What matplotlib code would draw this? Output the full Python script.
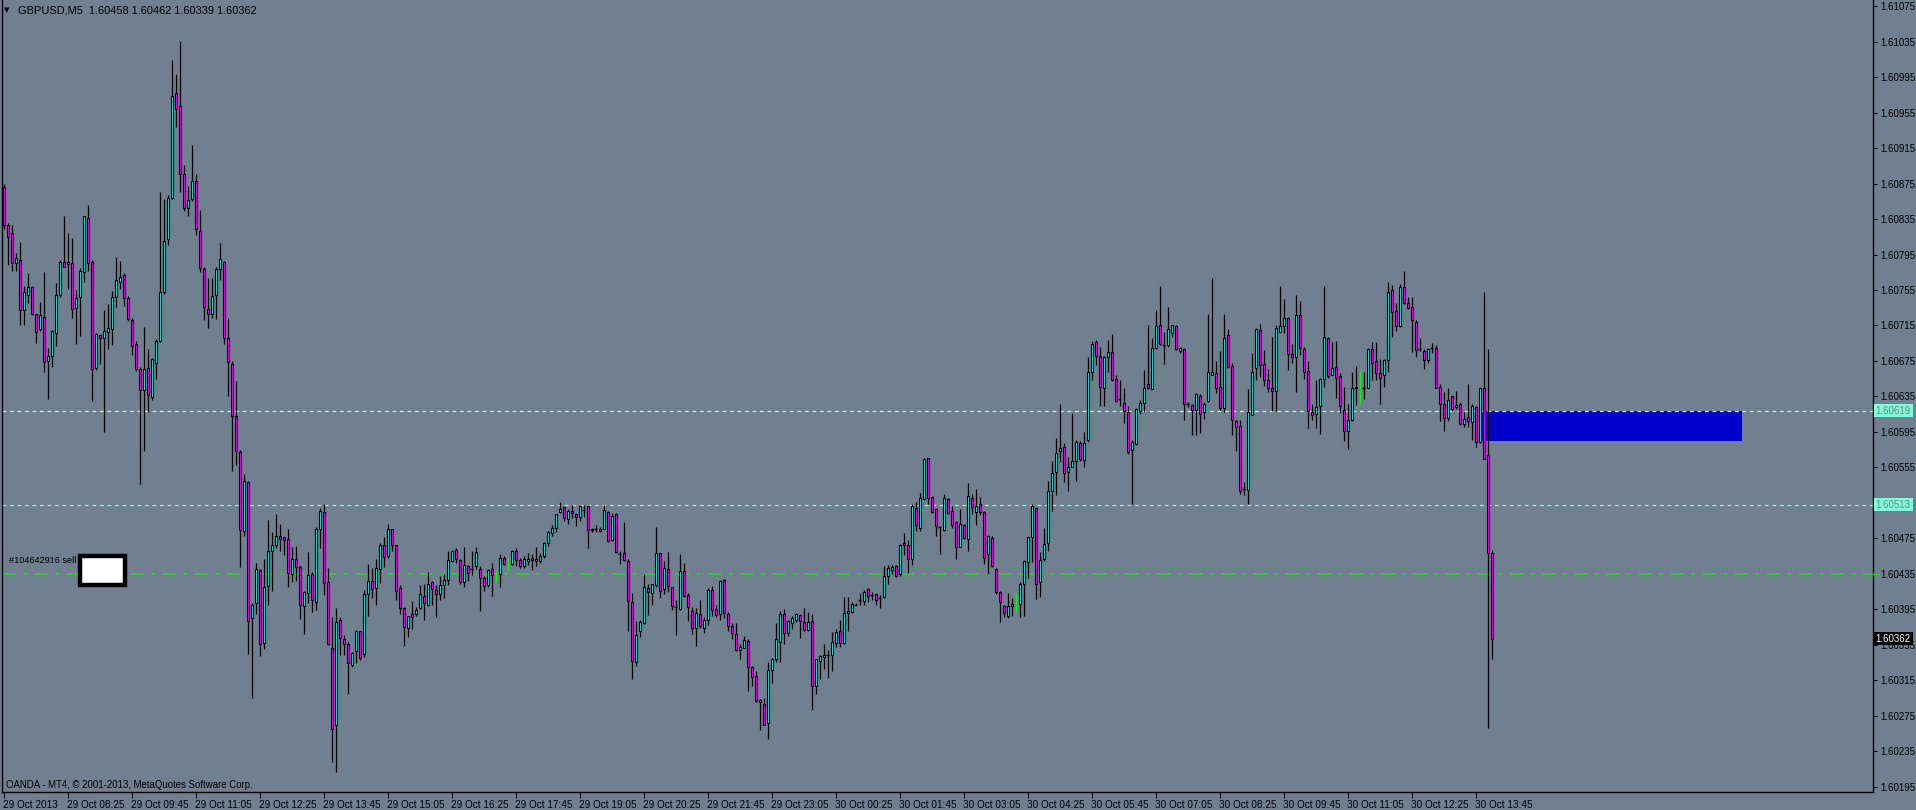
import matplotlib
matplotlib.use("Agg")
import matplotlib.pyplot as plt
import matplotlib.transforms as mtransforms
from matplotlib.patches import Rectangle

# ---------------- data (prices in points above 1.60000, i.e. 871 -> 1.60871) -------------
BASE = 1.60000
opens_pts = [871,828,819,785,789,732,749,758,728,711,725,675,681,707,749,787,784,786,735,747,
 775,836,787,667,704,701,708,711,747,764,772,746,721,694,666,642,667,634,673,697,
 753,813,859,977,962,886,847,858,878,822,779,734,728,749,779,787,701,672,613,572,
 483,539,385,402,439,357,421,461,467,478,476,474,435,452,443,399,413,435,403,485,
 505,426,351,265,383,361,356,332,348,371,345,412,427,419,440,467,455,485,467,419,
 396,374,390,390,396,410,400,426,417,412,422,428,450,462,451,426,444,440,444,440,
 430,422,440,433,435,453,446,446,461,451,444,449,453,452,450,455,470,481,487,505,
 510,497,506,502,499,507,512,484,485,486,485,505,473,502,457,458,449,403,336,370,
 379,419,413,422,458,418,441,420,398,395,438,411,393,374,390,374,383,417,395,390,
 428,390,376,367,349,351,359,330,320,290,288,267,327,339,358,390,368,380,383,389,
 381,372,382,308,337,341,343,344,357,371,357,391,392,400,405,404,418,411,412,408,
 409,432,439,444,435,470,468,452,509,487,519,566,522,508,488,484,519,506,493,465,
 490,474,521,505,514,505,457,475,441,414,399,387,399,402,401,424,448,477,509,426,
 452,470,528,550,574,578,550,556,562,583,563,586,662,696,681,644,680,685,655,632,
 628,617,575,581,619,628,649,643,690,715,693,693,707,714,686,688,626,625,620,636,
 618,630,659,661,646,622,704,669,607,602,531,529,614,667,710,672,653,645,641,708,
 714,724,683,679,727,688,664,618,615,624,655,701,659,668,658,620,596,609,646,644,
 644,644,688,675,661,659,676,755,731,714,758,740,736,719,688,686,676,690,690,646,
 627,611,635,623,627,604,612,606,623,584,644,569,458]
highs_pts = [875,830,828,797,809,759,774,759,728,741,775,690,710,763,789,838,819,814,755,780,
 839,851,789,707,704,732,739,754,792,788,774,748,723,697,668,713,688,678,700,866,
 858,862,1014,999,1036,896,872,919,886,845,781,768,768,781,808,788,723,675,652,575,
 548,540,402,447,441,452,496,482,502,491,476,486,465,466,445,416,460,437,488,509,
 514,442,386,396,386,366,358,347,372,371,417,446,442,452,470,477,491,486,467,422,
 398,388,404,398,422,423,437,427,422,433,435,461,462,464,452,465,445,461,465,444,
 433,440,447,439,457,455,453,462,464,453,455,458,457,465,458,471,483,490,502,516,
 510,508,513,503,513,513,513,487,490,488,513,506,504,504,461,493,452,413,382,383,
 435,423,424,488,459,449,460,420,405,457,447,413,398,396,406,386,419,421,400,428,
 429,392,380,379,356,365,361,331,325,294,295,336,340,379,393,395,383,388,391,390,
 397,392,390,339,344,356,349,369,373,383,409,409,403,402,413,417,419,414,413,411,
 444,445,445,445,469,481,473,514,516,526,566,566,523,509,489,525,521,511,494,508,
 491,537,525,531,522,506,479,478,442,416,400,413,408,413,426,451,477,514,510,460,
 487,540,562,588,626,582,567,616,586,585,595,680,698,699,691,681,699,705,659,653,
 644,624,586,622,631,665,716,701,732,759,708,736,716,715,691,690,629,627,639,638,
 629,728,769,675,686,728,711,673,609,609,539,643,684,712,717,687,666,702,716,760,
 745,725,694,749,743,691,675,626,654,656,759,702,696,697,661,646,627,663,669,664,
 663,690,696,696,677,677,764,761,740,762,776,747,747,721,701,689,690,695,693,649,
 640,644,636,641,629,617,649,626,624,645,753,688,462]
lows_pts = [824,783,777,777,715,716,740,727,695,709,663,632,668,692,747,781,756,724,694,703,
 764,776,630,665,672,595,689,693,736,756,737,720,682,664,536,573,617,631,655,696,
 751,806,858,939,866,844,839,855,817,775,721,712,724,722,766,694,636,551,558,443,
 478,345,295,390,342,350,400,416,464,461,456,420,426,427,384,367,402,392,394,464,
 411,355,223,212,343,344,299,330,334,338,341,388,408,400,425,443,453,461,405,390,
 354,364,373,387,395,383,399,400,386,405,408,422,448,447,424,420,427,434,440,393,
 416,420,410,426,420,445,439,445,444,442,442,445,439,444,447,453,466,478,482,504,
 494,491,498,489,494,499,464,482,482,482,485,471,472,458,446,449,371,316,331,364,
 378,389,400,420,408,412,415,394,366,394,409,382,367,354,374,368,377,388,386,383,
 385,371,362,348,339,351,303,309,290,259,264,249,312,336,336,356,365,373,381,363,
 371,371,282,299,316,328,317,325,352,352,356,371,391,400,400,400,403,406,400,396,
 408,423,435,431,433,456,436,445,483,483,518,514,504,478,457,483,503,487,452,465,
 474,461,503,490,501,446,435,443,412,381,386,385,388,392,386,388,430,448,407,409,
 450,461,506,524,561,539,528,555,540,562,555,584,653,670,624,624,662,652,629,624,
 605,570,514,580,615,617,643,643,689,693,672,691,702,687,684,609,623,592,592,594,
 610,629,659,639,620,617,667,592,574,525,524,514,614,653,657,647,640,619,619,708,
 707,665,673,640,682,655,599,608,599,593,646,656,659,633,616,585,576,607,625,627,
 632,644,654,654,627,646,663,702,709,713,739,734,685,679,686,666,673,684,644,607,
 596,607,619,621,603,600,601,586,578,583,565,261,339]
closes_pts = [828,815,785,791,733,753,758,728,708,727,674,681,709,749,787,781,787,734,746,777,
 838,786,666,705,701,709,712,747,766,770,746,722,692,666,642,666,637,677,698,753,
 810,859,974,959,886,847,856,878,824,780,736,728,748,779,790,701,674,613,574,484,
 540,382,400,440,356,420,461,468,478,474,473,436,452,443,400,415,434,405,486,506,
 425,356,260,381,363,356,334,346,371,340,412,427,418,442,467,454,485,467,416,396,
 375,387,386,394,412,402,424,418,412,422,428,451,461,452,426,445,436,440,460,430,
 421,439,434,433,453,446,446,461,451,444,452,452,451,449,455,470,482,487,502,508,
 498,506,504,499,512,507,484,486,485,483,507,472,500,460,457,451,404,337,366,381,
 420,415,423,459,416,442,421,399,398,438,410,398,374,391,376,383,417,394,389,427,
 391,376,368,349,352,360,330,319,292,293,265,327,339,362,390,368,382,385,390,382,
 372,381,308,339,342,344,343,358,369,357,391,393,401,400,405,415,410,411,406,408,
 433,442,443,432,468,467,452,511,490,521,565,521,505,489,488,521,504,490,465,491,
 475,523,510,512,505,453,478,444,415,403,391,399,401,402,423,450,476,511,424,451,
 469,528,549,571,577,549,555,562,584,564,583,663,694,681,646,679,685,653,630,632,
 619,572,584,621,628,644,644,690,714,694,693,711,715,688,690,627,626,620,638,615,
 627,662,662,645,622,701,668,609,600,528,531,618,662,711,670,653,644,641,712,714,
 724,683,679,727,690,663,619,614,623,655,702,658,667,656,624,596,609,644,644,644,
 644,688,673,661,656,676,753,730,714,758,740,735,721,687,688,676,688,690,644,626,
 611,631,621,625,604,610,607,624,584,644,565,459,362]
lime_doji_bars = [123, 126, 253, 339]

x_tick_bars = list(range(0, 369, 16))
x_tick_labels = ["29 Oct 2013", "29 Oct 08:25", "29 Oct 09:45", "29 Oct 11:05", "29 Oct 12:25",
                 "29 Oct 13:45", "29 Oct 15:05", "29 Oct 16:25", "29 Oct 17:45", "29 Oct 19:05",
                 "29 Oct 20:25", "29 Oct 21:45", "29 Oct 23:05", "30 Oct 00:25", "30 Oct 01:45",
                 "30 Oct 03:05", "30 Oct 04:25", "30 Oct 05:45", "30 Oct 07:05", "30 Oct 08:25",
                 "30 Oct 09:45", "30 Oct 11:05", "30 Oct 12:25", "30 Oct 13:45"]
y_tick_values = [1.61075 - 0.0004 * k for k in range(23)]
hidden_y_labels = ["1.60515"]   # covered by the 1.60513 price box in the reference

line_upper = 1.60619
line_lower = 1.60513
order_price = 1.60435
last_price = 1.60362
zone_top, zone_bottom = 1.60619, 1.60585
zone_start_bar, zone_end_bar = 369.2, 434.6
header = "GBPUSD,M5  1.60458 1.60462 1.60339 1.60362"
order_label = "#104642916 sell"
copyright_text = "OANDA - MT4, \u00a9 2001-2013, MetaQuotes Software Corp."

# ---------------- styling -------------
BG = "#708090"
BULL = "#40E0D0"
BEAR = "#FF00FF"
FONT = "Liberation Sans"

o = [BASE + v / 1e5 for v in opens_pts]
h = [BASE + v / 1e5 for v in highs_pts]
l = [BASE + v / 1e5 for v in lows_pts]
c = [BASE + v / 1e5 for v in closes_pts]
n = len(o)
xs = list(range(n))

W, H = 1916, 810
fig = plt.figure(figsize=(W / 100, H / 100), dpi=100, facecolor=BG)
ax = fig.add_axes([2 / W, 18 / H, 1871 / W, 792 / H])
ax.set_facecolor(BG)
ax.set_xlim(-0.425, -0.425 + 1871 / 4)
ax.set_ylim(1.60189, 1.61082)

# wicks
normal = [i for i in xs if i not in lime_doji_bars]
ax.vlines([xs[i] for i in normal], [l[i] for i in normal], [h[i] for i in normal],
          colors="black", linewidth=0.9, zorder=3)
ax.vlines(lime_doji_bars, [l[i] for i in lime_doji_bars], [h[i] for i in lime_doji_bars],
          colors="#00FF00", linewidth=0.9, zorder=3)

# bodies
bw = 0.55
for i in normal:
    lo, hi = min(o[i], c[i]), max(o[i], c[i])
    if hi - lo < 1e-7:
        ax.hlines(o[i], i - bw / 2 - 0.1, i + bw / 2 + 0.1, colors="black", linewidth=1.0, zorder=4)
        continue
    col = BULL if c[i] > o[i] else BEAR
    ax.add_patch(Rectangle((i - bw / 2, lo), bw, hi - lo, facecolor=col,
                           edgecolor="black", linewidth=0.8, zorder=4))

# zone rectangle
ax.add_patch(Rectangle((zone_start_bar, zone_bottom), zone_end_bar - zone_start_bar,
                       zone_top - zone_bottom, facecolor="#0000CD", edgecolor="none", zorder=1))

# horizontal lines
ax.axhline(line_upper, color="#C8F5EC", linestyle=(0, (3, 3)), linewidth=0.9, zorder=2)
ax.axhline(line_lower, color="#7FFFD4", linestyle=(0, (3, 3)), linewidth=0.9, zorder=2)
ax.axhline(order_price, color="#22DD22", linestyle=(0, (9, 5, 2, 5)), linewidth=1.1, zorder=2)

# order label + white box
ax.text(1.3, order_price + 0.00015, order_label, fontsize=6.6, family=FONT,
        color="black", va="center", ha="left", zorder=6)
box_left = (80 - 3.7) / 4
ax.add_patch(Rectangle((box_left, order_price - 0.00013), 11.3, 0.00033,
                       facecolor="white", edgecolor="black", linewidth=3.2, zorder=6))

# spines
ax.spines["top"].set_visible(False)
for s in ["left", "right", "bottom"]:
    ax.spines[s].set_color("black")
    ax.spines[s].set_linewidth(1.0)

# y axis on right
ax.yaxis.tick_right()
ax.set_yticks(y_tick_values)
ylabels = [f"{v:.5f}" for v in y_tick_values]
ax.set_yticklabels(["" if s in hidden_y_labels else s for s in ylabels])
ax.tick_params(axis="y", which="both", direction="out", length=3, width=0.8, color="black",
               labelsize=7.0, pad=2, labelcolor="black", left=False)
for t in ax.get_yticklabels():
    t.set_family(FONT)

# x axis
ax.set_xticks(x_tick_bars)
ax.set_xticklabels(x_tick_labels)
ax.tick_params(axis="x", direction="out", length=4, width=0.8, color="black",
               labelsize=7.2, pad=1.5, labelcolor="black")
offset = mtransforms.ScaledTranslation(-1 / 100, 0, fig.dpi_scale_trans)
for t in ax.get_xticklabels():
    t.set_horizontalalignment("left")
    t.set_family(FONT)
    t.set_transform(t.get_transform() + offset)

# right-axis price boxes
ytrans = mtransforms.blended_transform_factory(ax.transAxes, ax.transData)
for price, fc, tc in [(line_upper, "#7FFFD4", "#708090"), (line_lower, "#7FFFD4", "#708090"),
                      (last_price, "black", "white")]:
    ax.text(1.0015, price, f"{price:.5f}", transform=ytrans, fontsize=7.0, family=FONT,
            color=tc, va="center", ha="left", zorder=10,
            bbox=dict(boxstyle="square,pad=0.18", facecolor=fc, edgecolor="none"))
ax.plot([1.0, 1.003], [order_price, order_price], transform=ytrans, color="#22DD22",
        linewidth=0.9, clip_on=False, zorder=10)

# header / copyright
fig.text(4 / W, 1 - 10.5 / H, "\u25bc", fontsize=5, family="DejaVu Sans", color="black",
         va="center", ha="left")
fig.text(18 / W, 1 - 10.5 / H, header, fontsize=7.9, family=FONT, color="black",
         va="center", ha="left")
fig.text(6 / W, 1 - 785 / H, copyright_text, fontsize=6.9, family=FONT, color="black",
         va="center", ha="left")

fig.savefig("out.png", dpi=100, facecolor=BG)
